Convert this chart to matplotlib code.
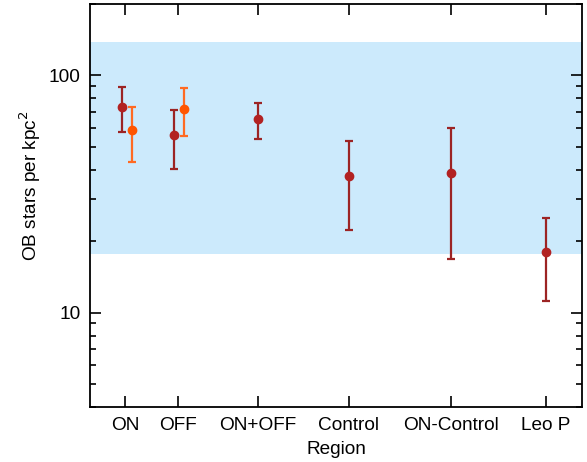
import numpy as np
import matplotlib
matplotlib.use("Agg")
import matplotlib.pyplot as plt
from matplotlib.ticker import LogLocator, NullFormatter, FixedLocator

plt.rcParams['font.family'] = ['Liberation Sans', 'DejaVu Sans']

regions = ['ON', 'OFF', 'ON+OFF', 'Control', 'ON-Control', 'Leo P']
region_x = [0.71, 1.78, 3.41, 5.26, 7.33, 9.27]

# dark red series (all regions)
red_x = [0.65, 1.71, 3.41, 5.26, 7.33, 9.27]
red_val = [73.4, 55.9, 65.3, 37.7, 38.6, 18.0]
red_hi = [89.0, 71.5, 76.6, 53.0, 60.1, 25.0]
red_lo = [57.6, 40.3, 54.2, 22.3, 16.9, 11.2]

# orange series (ON and OFF only)
orange_x = [0.85, 1.92]
orange_val = [58.8, 72.2]
orange_hi = [73.4, 88.8]
orange_lo = [43.3, 55.6]

band_lo, band_hi = 17.7, 139.0

fig = plt.figure(figsize=(5.87, 4.62), dpi=100)
ax = fig.add_axes([0.1533, 0.119, 0.8382, 0.8723])

ax.axhspan(band_lo, band_hi, color='#cceafc', lw=0, zorder=0)

red_err = [np.array(red_val) - np.array(red_lo), np.array(red_hi) - np.array(red_val)]
ax.errorbar(red_x, red_val, yerr=red_err, fmt='o', color='#b22222', ecolor='#9c2424',
            ms=6, elinewidth=1.6, capsize=2.6, capthick=1.6, zorder=3)

orange_err = [np.array(orange_val) - np.array(orange_lo), np.array(orange_hi) - np.array(orange_val)]
ax.errorbar(orange_x, orange_val, yerr=orange_err, fmt='o', color='#ff5500', ecolor='#ff6a22',
            ms=6, elinewidth=1.6, capsize=2.6, capthick=1.6, zorder=3)

ax.set_yscale('log')
ax.set_ylim(4, 200)
ax.set_xlim(0, 10)
ax.xaxis.set_major_locator(FixedLocator(region_x))
ax.set_xticklabels(regions)
ax.yaxis.set_minor_locator(LogLocator(base=10, subs=np.arange(2, 10), numticks=10))
ax.yaxis.set_minor_formatter(NullFormatter())
ax.set_yticks([10, 100])
ax.set_yticklabels(['10', '100'])

ax.tick_params(which='both', direction='in', top=True, right=True, labelsize=13.7, width=1.2)
ax.tick_params(which='major', length=8, pad=7)
ax.tick_params(which='minor', length=4.5)
for s in ax.spines.values():
    s.set_linewidth(1.3)

ax.set_xlabel('Region', fontsize=13.7)
ax.xaxis.set_label_coords(0.5, -0.085)
ax.set_ylabel('OB stars per kpc$^2$', fontsize=13.7)
ax.yaxis.set_label_coords(-0.095, 0.55)

fig.savefig('out.png', dpi=100)
